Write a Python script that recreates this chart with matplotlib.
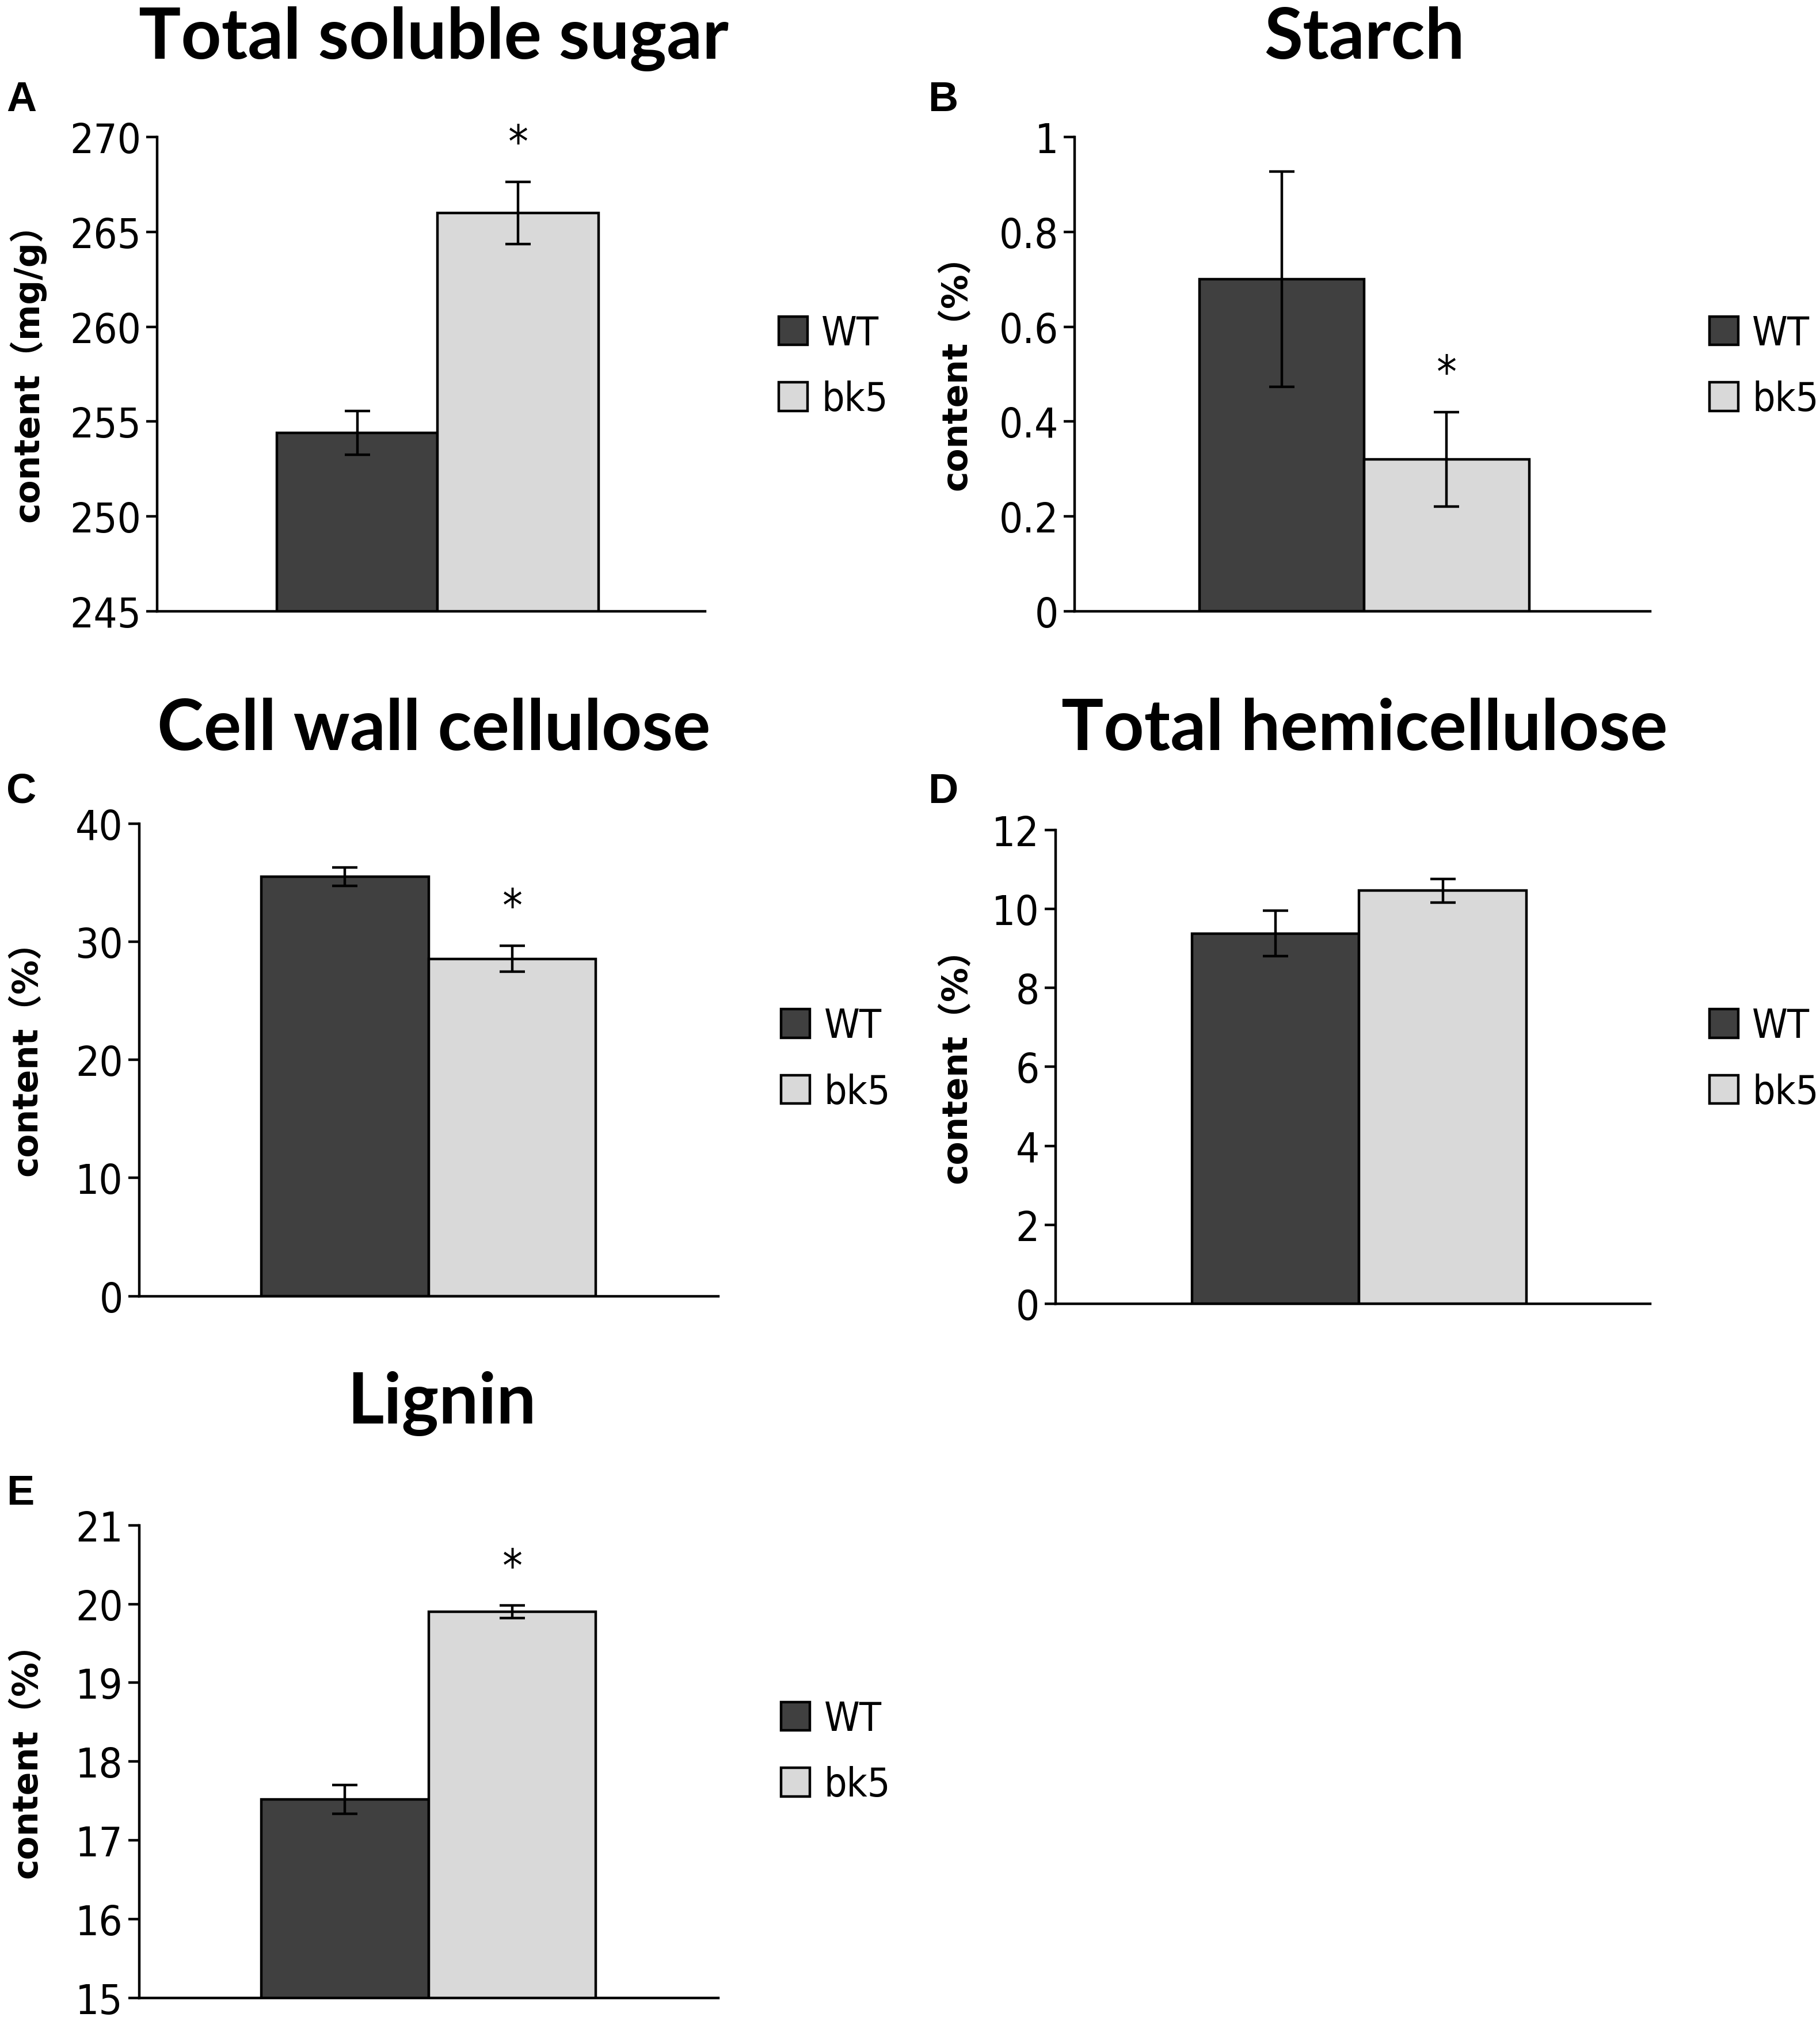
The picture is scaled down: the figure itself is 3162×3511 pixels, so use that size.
import numpy as np
import matplotlib
matplotlib.use('Agg')
import matplotlib.pyplot as plt
from matplotlib.patches import Patch

# data
groups = ['WT', 'bk5']
titles = ['Total soluble sugar', 'Starch', 'Cell wall cellulose', 'Total hemicellulose', 'Lignin']
letters = ['A', 'B', 'C', 'D', 'E']
ylabels = ['content（mg/g）', 'content（%）', 'content（%）', 'content（%）', 'content（%）']
wt_mean = [254.4, 0.70, 35.5, 9.38, 17.52]
wt_err = [1.15, 0.227, 0.8, 0.57, 0.18]
bk5_mean = [266.0, 0.32, 28.55, 10.46, 19.9]
bk5_err = [1.65, 0.10, 1.1, 0.30, 0.08]
signif = [True, True, True, False, True]
y_ticks = [[245, 250, 255, 260, 265, 270],
           [0, 0.2, 0.4, 0.6, 0.8, 1],
           [0, 10, 20, 30, 40],
           [0, 2, 4, 6, 8, 10, 12],
           [15, 16, 17, 18, 19, 20, 21]]
tick_text = [['245', '250', '255', '260', '265', '270'],
             ['0', '0.2', '0.4', '0.6', '0.8', '1'],
             ['0', '10', '20', '30', '40'],
             ['0', '2', '4', '6', '8', '10', '12'],
             ['15', '16', '17', '18', '19', '20', '21']]

W, H = 1414.0, 1570.0   # layout measured on a downscaled copy
tick_font = dict(family='DejaVu Sans', stretch='condensed')
cols = ['#404040', '#d9d9d9']

# (left, right, top, bottom, bar-left, bar-right) in px of the downscaled copy
boxes = [(122, 548, 107, 475, 215, 465),
         (835, 1282, 107, 475, 932, 1188),
         (108, 558, 640, 1007, 203, 463),
         (820, 1282, 645, 1013, 926, 1186),
         (108, 558, 1185, 1552, 203, 463)]
title_xy = [(337, 30), (1060, 30), (337, 567), (1060, 567), (343, 1090)]
letter_xy = [(5, 78), (721, 78), (5, 615), (721, 615), (5, 1160)]
legend_xy = [(605, 285), (1328, 285), (607, 823), (1328, 823), (607, 1361)]
ylab_x = [21, 743, 21, 743, 21]

fig = plt.figure(figsize=(15.81, 17.56), dpi=200)

for i in range(5):
    l, r, t, b, bl, br = boxes[i]
    ax = fig.add_axes([l / W, 1 - b / H, (r - l) / W, (b - t) / H])
    bw = (br - bl) / 2.0
    ax.bar([0, 1], [wt_mean[i], bk5_mean[i]], width=1.0, color=cols,
           edgecolor='black', linewidth=1.6, zorder=2)
    ax.errorbar([0, 1], [wt_mean[i], bk5_mean[i]], yerr=[wt_err[i], bk5_err[i]],
                fmt='none', ecolor='black', elinewidth=1.6, capsize=8, capthick=1.6, zorder=3)
    ax.set_xlim(-0.5 - (bl - l) / bw, 1.5 + (r - br) / bw)
    lo, hi = y_ticks[i][0], y_ticks[i][-1]
    ax.set_ylim(lo, hi)
    ax.set_yticks(y_ticks[i])
    ax.set_yticklabels(tick_text[i], fontsize=26, **tick_font)
    ax.set_xticks([])
    for s in ['top', 'right']:
        ax.spines[s].set_visible(False)
    ax.spines['left'].set_linewidth(1.6)
    ax.spines['bottom'].set_linewidth(1.6)
    ax.tick_params(axis='y', direction='out', length=7, width=1.6, pad=3)
    for sp in ax.spines.values():
        sp.set_clip_on(False)
    if signif[i]:
        ystar = bk5_mean[i] + bk5_err[i] + 0.08 * (hi - lo)
        ax.text(1, ystar, '*', ha='center', va='center', fontsize=28,
                clip_on=False, **tick_font)

    fig.text(title_xy[i][0] / W, 1 - title_xy[i][1] / H, titles[i], ha='center', va='center',
             fontsize=44, fontweight='bold', family=['Lato', 'DejaVu Sans'])
    fig.text(letter_xy[i][0] / W, 1 - letter_xy[i][1] / H, letters[i], ha='left', va='center',
             fontsize=26, fontweight='bold', family=['Liberation Sans', 'DejaVu Sans'])
    fig.text(ylab_x[i] / W, 1 - ((t + b) / 2 - 8) / H, ylabels[i], rotation=90,
             ha='center', va='center', fontsize=21.5, fontweight='bold',
             family=['DejaVu Sans', 'Noto Sans CJK SC'])

    handles = [Patch(facecolor=cols[k], edgecolor='black', linewidth=1.6) for k in range(2)]
    fig.legend(handles, groups, loc='center left',
               bbox_to_anchor=(legend_xy[i][0] / W, 1 - legend_xy[i][1] / H),
               frameon=False, borderpad=0, borderaxespad=0,
               handlelength=0.72, handleheight=0.72, handletextpad=0.35,
               labelspacing=0.68, prop=dict(size=25, **tick_font))

fig.savefig('out.png', dpi=200, facecolor='white')
